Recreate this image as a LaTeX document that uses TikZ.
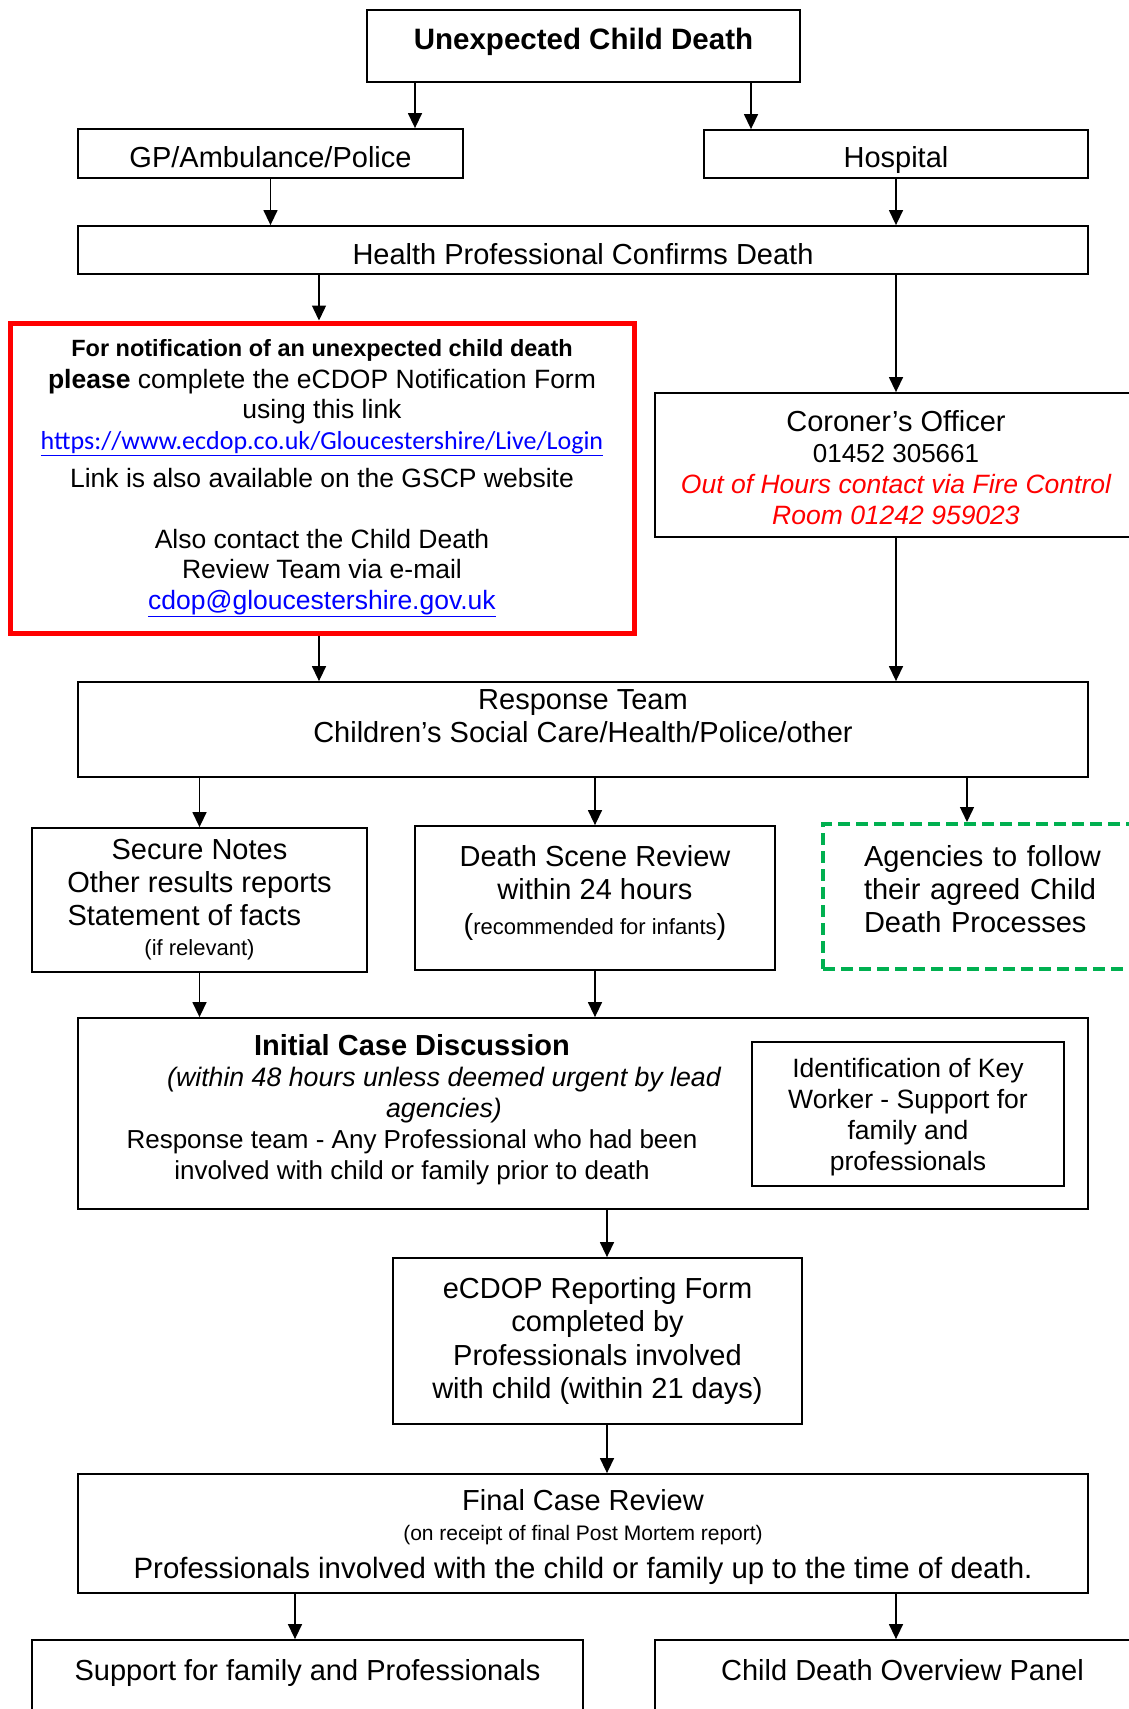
\documentclass[tikz,border=0pt]{standalone}
\usepackage{fontspec}
\setmainfont{Liberation Sans}
\newfontfamily\calfont{Carlito}
\usetikzlibrary{arrows.meta}

\definecolor{linkblue}{RGB}{0,0,255}
\definecolor{agreen}{RGB}{0,176,80}
\newcommand{\fs}[2]{\fontsize{#1}{#2}\selectfont}

\begin{document}
\begin{tikzpicture}[x=1pt, y=-1pt,
    box/.style = {draw, line width=1.8pt, align=center, inner sep=0pt, font=\fs{29}{33}},
    arr/.style = {-{Triangle[length=15pt, width=14pt]}, line width=1.4pt}]
    \useasboundingbox (0,0) rectangle (1129,1709);

    % Boxes
    \node[box, minimum width=433, minimum height=72, font=\bfseries\fs{29.5}{34}, text depth=14pt] (start) at (583.5,46) {Unexpected Child Death};
    \node[box, minimum width=385, minimum height=49, text height=28pt, text depth=0pt] (gp) at (270.5,153.5) {GP/Ambulance/Police};
    \node[box, minimum width=384, minimum height=48, text height=27pt, text depth=0pt] (hosp) at (896,154) {Hospital};
    \node[box, minimum width=1010, minimum height=48, text height=29pt, text depth=0pt] (hpcd) at (583,250) {Health Professional Confirms Death};

    \node[box, draw=red, line width=5pt, minimum width=624, minimum height=310, font=\fs{26.5}{30.5}] (notif) at (322,478) {%
        {\fs{23.5}{30.5}\textbf{For notification of an unexpected child death}}\\[1.5pt]
        \textbf{please} complete the eCDOP Notification Form\\
        using this link\\
        {\calfont\fs{26}{30.5}\color{linkblue}\underline{https://www.ecdop.co.uk/Gloucestershire/Live/Login}}\\[8pt]
        Link is also available on the GSCP website\\[30pt]
        Also contact the Child Death\\
        Review Team via e-mail\\
        {\color{linkblue}\underline{cdop@gloucestershire.gov.uk}}};

    \node[box, minimum width=482, minimum height=144, font=\fs{29}{31}, text height=119pt] (coroner) at (896,465) {%
        Coroner’s Officer\\
        {\fs{26}{31}01452 305661}\\
        {\color{red}\itshape\fs{26.5}{31}Out of Hours contact via Fire Control}\\
        {\color{red}\itshape\fs{26.5}{31}Room 01242 959023}};

    \node[box, minimum width=1010, minimum height=95, text depth=27pt] (resp) at (583,729.5) {%
        Response Team\\ Children’s Social Care/Health/Police/other};

    \node[box, minimum width=335, minimum height=144] (secure) at (199.5,900) {%
        Secure Notes\\ Other results reports\\ \makebox[264pt][l]{Statement of facts}\\[-3pt] {\fs{22}{26}(if relevant)}};
    \node[box, minimum width=360, minimum height=144, text depth=17pt] (dsr) at (595,898) {%
        Death Scene Review\\ within 24 hours\\[2pt] ({\fs{22}{26}recommended for infants})};
    \node[box, draw=agreen, line width=4pt, dash pattern=on 12pt off 6pt, minimum width=337, minimum height=145,
          text width=255pt, align=left, text depth=82pt] (agency) at (991.5,896.5) {%
        Agencies to follow\\ their agreed Child\\ Death Processes};

    \node[box, minimum width=1010, minimum height=191] (icd) at (583,1113.5) {};
    \node[align=center, inner sep=0pt, font=\fs{26}{31}] (icdtxt) at (412,1110) {%
        {\bfseries\fs{29}{31}Initial Case Discussion}\\
        \hspace*{64pt}{\itshape\fs{26.7}{31}(within 48 hours unless deemed urgent by lead}\\
        \hspace*{64pt}{\itshape\fs{26.7}{31}agencies)}\\
        Response team - Any Professional who had been\\
        involved with child or family prior to death};
    \node[box, minimum width=312, minimum height=144, font=\fs{26.5}{31}, text depth=0pt] (keyw) at (908,1114) {%
        Identification of Key\\ Worker - Support for\\ family and\\ professionals};

    \node[box, minimum width=409, minimum height=166, font=\fs{29}{33.5}] (ecdop) at (597.5,1341) {%
        eCDOP Reporting Form\\ completed by\\ Professionals involved\\ with child (within 21 days)};

    \node[box, minimum width=1010, minimum height=119, text depth=0pt] (final) at (583,1533.5) {%
        Final Case Review\\[-3pt]
        {\fs{21}{26}(on receipt of final Post Mortem report)}\\[5pt]
        {\fs{29.4}{33}Professionals involved with the child or family up to the time of death.}};

    \node[box, minimum width=551, minimum height=76, text depth=16pt] (supp) at (307.5,1678) {Support for family and Professionals};
    \node[box, minimum width=495, minimum height=76, text depth=16pt] (cdop) at (902.5,1678) {Child Death Overview Panel};

    % Arrows
    \draw[arr] (start.south -| 415,0) -- (gp.north -| 415,0);
    \draw[arr] (start.south -| 751,0) -- (hosp.north -| 751,0);
    \draw[arr] (gp.south) -- (gp.south |- hpcd.north);
    \draw[arr] (hosp.south) -- (hosp.south |- hpcd.north);
    \draw[arr] (hpcd.south -| 319,0) -- (notif.north -| 319,0);
    \draw[arr] (hpcd.south -| coroner.north) -- (coroner.north);
    \draw[arr] (notif.south -| 319,0) -- (resp.north -| 319,0);
    \draw[arr] (coroner.south) -- (coroner.south |- resp.north);
    \draw[arr] (resp.south -| secure.north) -- (secure.north);
    \draw[arr] (resp.south -| dsr.north) -- (dsr.north);
    \draw[arr] (resp.south -| 967,0) -- (agency.north -| 967,0);
    \draw[arr] (secure.south) -- (secure.south |- icd.north);
    \draw[arr] (dsr.south) -- (dsr.south |- icd.north);
    \draw[arr] (icd.south -| 607,0) -- (ecdop.north -| 607,0);
    \draw[arr] (ecdop.south -| 607,0) -- (final.north -| 607,0);
    \draw[arr] (final.south -| 295,0) -- (supp.north -| 295,0);
    \draw[arr] (final.south -| 896,0) -- (cdop.north -| 896,0);
\end{tikzpicture}
\end{document}
